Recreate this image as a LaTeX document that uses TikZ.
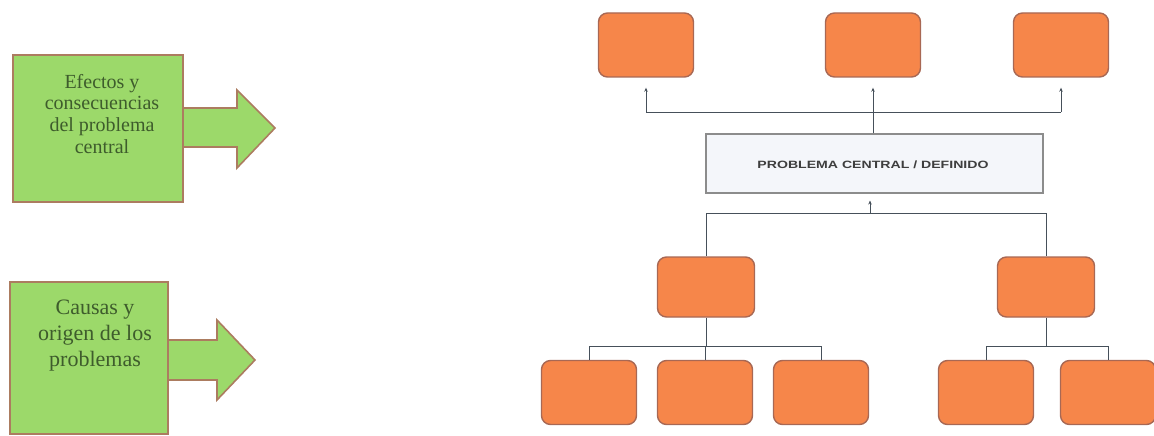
\documentclass[tikz,border=0pt]{standalone}
\usepackage{fontspec}
\setmainfont{Liberation Serif}
\newfontfamily\greenfont{Liberation Serif}
\newfontfamily\capsfont[FakeStretch=1.33]{Liberation Sans}
\usetikzlibrary{arrows.meta}
\definecolor{orfill}{RGB}{246,134,74}
\definecolor{ordraw}{RGB}{168,104,84}
\definecolor{grfill}{RGB}{156,217,106}
\definecolor{grdraw}{RGB}{172,124,96}
\definecolor{grtext}{RGB}{62,92,44}
\definecolor{cfill}{RGB}{244,246,250}
\definecolor{cdraw}{RGB}{140,140,140}
\definecolor{ctext}{RGB}{62,62,62}
\definecolor{lnk}{RGB}{70,80,90}
\tikzset{
  obox/.style={draw=ordraw, fill=orfill, line width=1.4pt, rounded corners=9pt,
    minimum width=95pt, minimum height=64pt, inner sep=0pt},
  cbox/.style={draw=cdraw, fill=cfill, line width=1.1pt,
    minimum width=337pt, minimum height=59pt, inner sep=0pt},
  ctxt/.style={inner sep=0pt, font=\capsfont\bfseries\fontsize{10.6}{12}\selectfont, text=ctext},
  gbox/.style={draw=grdraw, fill=grfill, line width=1.6pt, inner sep=0pt},
  garrow/.style={draw=grdraw, fill=grfill, line width=1.6pt, line join=miter},
  gtext/.style={text=grtext, align=center, inner sep=0pt},
  link/.style={draw=lnk, line width=0.7pt},
  tinyarrow/.style={link, -{Stealth[length=4pt,width=3.5pt]}},
}
\begin{document}
\begin{tikzpicture}[x=1pt,y=-1pt]
\useasboundingbox (0,0) rectangle (1154,436);
% green arrows
\path[garrow] (170,108) -- (237,108) -- (237,90) -- (275,128) -- (237,168) -- (237,147) -- (170,147) -- cycle;
\node[gbox, minimum width=170pt, minimum height=147pt] (g1) at (98,128.5) {};
\node[gtext, font=\greenfont\fontsize{20}{21.7}\selectfont, anchor=north] (g1t) at (102,74)
  {Efectos y\\consecuencias\\del problema\\central};
\path[garrow] (155,340) -- (217,340) -- (217,320) -- (255,360) -- (217,400) -- (217,380) -- (155,380) -- cycle;
\node[gbox, minimum width=158pt, minimum height=152pt] (g2) at (89,358) {};
\node[gtext, font=\greenfont\fontsize{22}{26}\selectfont, anchor=north] (g2t) at (95,300)
  {Causas y\\origen de los\\problemas};
% top row
\node[obox] (t1) at (646,45) {};
\node[obox] (t2) at (873,45) {};
\node[obox] (t3) at (1061,45) {};
% central problem
\node[cbox] (c) at (874.5,163.5) {};
\node[ctxt] (ct) at (873,165) {PROBLEMA CENTRAL / DEFINIDO};
\coordinate (jt) at (873,112);
\coordinate (jb) at (870,213);
% middle row
\node[obox, minimum height=60pt, minimum width=97pt] (m1) at (706,287) {};
\node[obox, minimum height=60pt, minimum width=97pt] (m2) at (1046,287) {};
% bottom row
\node[obox] (b1) at (589,392.5) {};
\node[obox] (b2) at (705,392.5) {};
\node[obox] (b3) at (821,392.5) {};
\node[obox] (b4) at (986,392.5) {};
\node[obox] (b5) at (1108,392.5) {};
% effects connectors
\draw[link] (c.north -| jt) -- (jt);
\draw[link] (t1.south |- jt) -- (t3.south |- jt);
\draw[tinyarrow, shorten >=10pt] (t1.south |- jt) -- (t1.south);
\draw[tinyarrow, shorten >=10pt] (t2.south |- jt) -- (t2.south);
\draw[tinyarrow, shorten >=10pt] (t3.south |- jt) -- (t3.south);
% causes connectors
\draw[tinyarrow, shorten >=7pt] (jb) -- (c.south -| jb);
\draw[link] (m1.north |- jb) -- (m2.north |- jb);
\draw[link] (m1.north |- jb) -- (m1.north);
\draw[link] (m2.north |- jb) -- (m2.north);
\coordinate (l1) at (706,346);
\coordinate (l2) at (1046,346);
\draw[link] (m1.south) -- (l1);
\draw[link] (b1.north |- l1) -- (b3.north |- l1);
\draw[link] (b1.north |- l1) -- (b1.north);
\draw[link] (b2.north |- l1) -- (b2.north);
\draw[link] (b3.north |- l1) -- (b3.north);
\draw[link] (m2.south) -- (l2);
\draw[link] (b4.north |- l2) -- (b5.north |- l2);
\draw[link] (b4.north |- l2) -- (b4.north);
\draw[link] (b5.north |- l2) -- (b5.north);
\end{tikzpicture}
\end{document}
